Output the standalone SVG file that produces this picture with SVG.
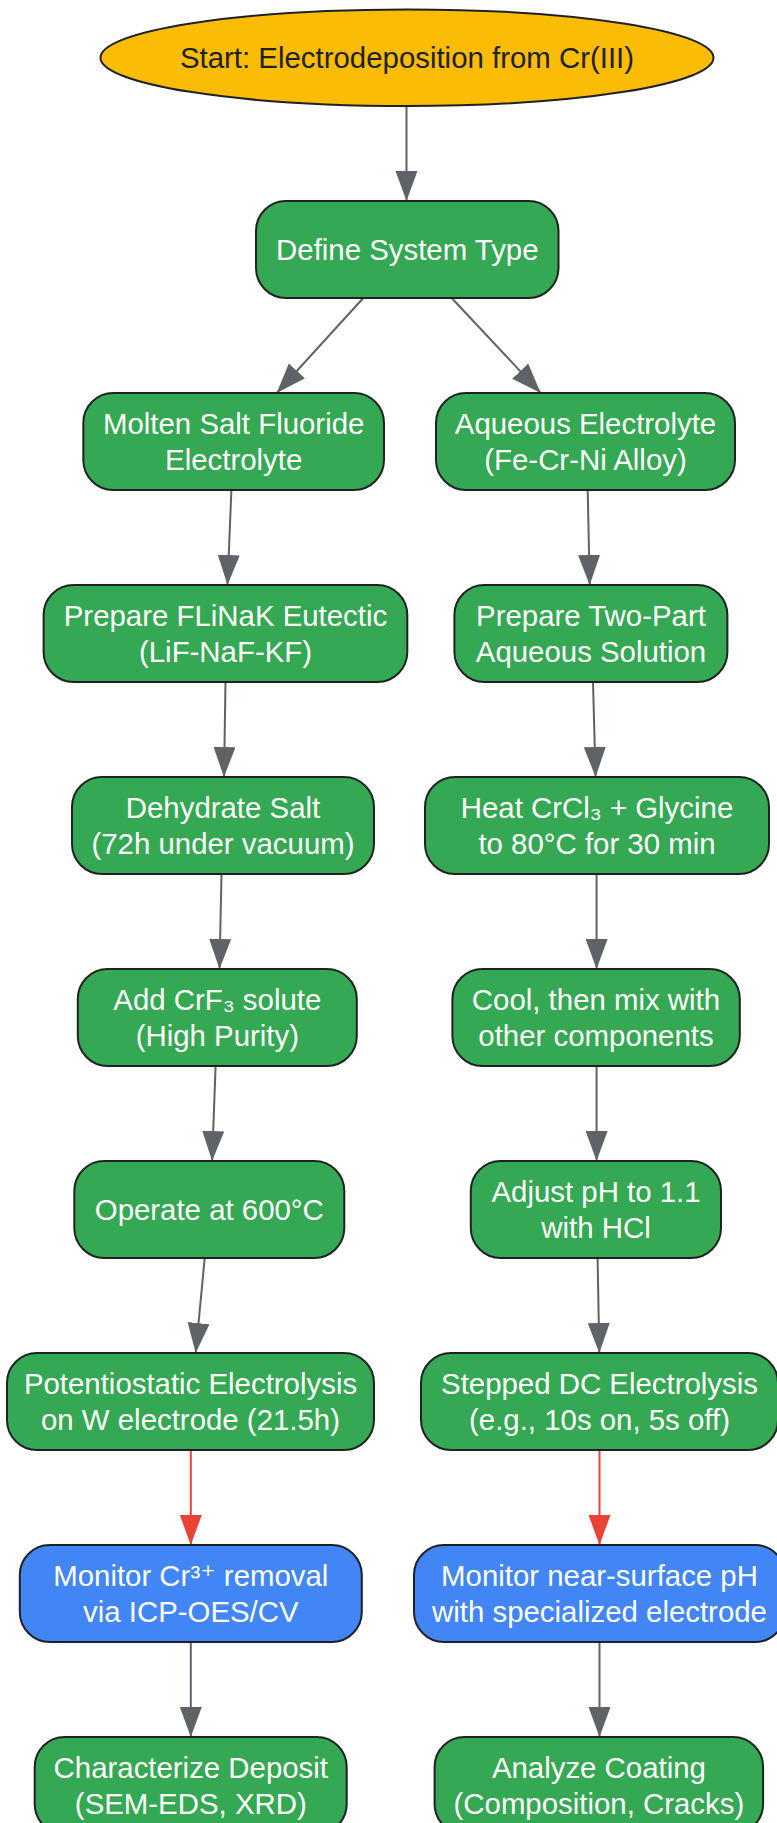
<svg xmlns="http://www.w3.org/2000/svg" width="777" height="1823" viewBox="0 0 777 1823">
<style>
.n{fill:#34A853;stroke:#202124;stroke-width:2}
.b{fill:#4285F4;stroke:#202124;stroke-width:2}
.s{fill:#FBBC05;stroke:#202124;stroke-width:2}
.t{font-family:"Liberation Sans",Arial,"DejaVu Sans",sans-serif;font-size:29.4px;fill:#ffffff;text-anchor:middle}
.td{fill:#202124}
.g{stroke:#5F6368;stroke-width:2;fill:none;marker-end:url(#ag)}
.r{stroke:#EA4335;stroke-width:2;fill:none;marker-end:url(#ar)}
</style>
<defs>
<marker id="ag" markerUnits="userSpaceOnUse" markerWidth="31" markerHeight="23" refX="30" refY="11" orient="auto"><path d="M0,0 L30,11 L0,22 z" fill="#5F6368"/></marker>
<marker id="ar" markerUnits="userSpaceOnUse" markerWidth="31" markerHeight="23" refX="30" refY="11" orient="auto"><path d="M0,0 L30,11 L0,22 z" fill="#EA4335"/></marker>
</defs>
<g id="connectors">
<line class="g" x1="406.5" y1="106" x2="406.5" y2="201"/>
<line class="g" x1="363.3" y1="298" x2="276.7" y2="393"/>
<line class="g" x1="451.7" y1="298" x2="540.7" y2="393"/>
<line class="g" x1="231.4" y1="490" x2="227.5" y2="585"/>
<line class="g" x1="587.7" y1="490" x2="589.7" y2="585"/>
<line class="g" x1="225.5" y1="682" x2="224" y2="777"/>
<line class="g" x1="593" y1="682" x2="595.6" y2="777"/>
<line class="g" x1="221.5" y1="874" x2="219.5" y2="969"/>
<line class="g" x1="596.6" y1="874" x2="596.6" y2="969"/>
<line class="g" x1="215.6" y1="1066" x2="212.1" y2="1161"/>
<line class="g" x1="596.6" y1="1066" x2="596.6" y2="1161"/>
<line class="g" x1="204.7" y1="1258" x2="195.7" y2="1353"/>
<line class="g" x1="597.6" y1="1258" x2="599.3" y2="1353"/>
<line class="r" x1="190.8" y1="1450" x2="190.8" y2="1545"/>
<line class="r" x1="599.5" y1="1450" x2="599.5" y2="1545"/>
<line class="g" x1="190.8" y1="1642" x2="190.8" y2="1737"/>
<line class="g" x1="599.5" y1="1642" x2="599.5" y2="1737"/>
</g>
<g id="start"><ellipse class="s" cx="407" cy="57.7" rx="306.5" ry="48.3"/><text class="t td" x="407" y="68.3">Start: Electrodeposition from Cr(III)</text></g>
<g id="define"><rect class="n" x="256" y="201" width="302.5" height="97" rx="30"/><text class="t" x="407.3" y="259.5">Define System Type</text></g>
<g id="molten"><rect class="n" x="83.3" y="393" width="300.7" height="97" rx="30"/><text class="t" x="233.7" y="433.5">Molten Salt Fluoride</text><text class="t" x="233.7" y="470">Electrolyte</text></g>
<g id="aqueous"><rect class="n" x="436" y="393" width="299" height="97" rx="30"/><text class="t" x="585.5" y="433.5">Aqueous Electrolyte</text><text class="t" x="585.5" y="470">(Fe-Cr-Ni Alloy)</text></g>
<g id="flinak"><rect class="n" x="43.6" y="585" width="363.7" height="97" rx="30"/><text class="t" x="225.5" y="625.5">Prepare FLiNaK Eutectic</text><text class="t" x="225.5" y="662">(LiF-NaF-KF)</text></g>
<g id="twopart"><rect class="n" x="454.4" y="585" width="273" height="97" rx="30"/><text class="t" x="591" y="625.5">Prepare Two-Part</text><text class="t" x="591" y="662">Aqueous Solution</text></g>
<g id="dehydrate"><rect class="n" x="72" y="777" width="302" height="97" rx="30"/><text class="t" x="223" y="817.5">Dehydrate Salt</text><text class="t" x="223" y="854">(72h under vacuum)</text></g>
<g id="heat"><rect class="n" x="425" y="777" width="344" height="97" rx="30"/><text class="t" x="597" y="817.5">Heat CrCl₃ + Glycine</text><text class="t" x="597" y="854">to 80°C for 30 min</text></g>
<g id="addcrf3"><rect class="n" x="77.8" y="969" width="279" height="97" rx="30"/><text class="t" x="217.3" y="1009.5">Add CrF₃ solute</text><text class="t" x="217.3" y="1046">(High Purity)</text></g>
<g id="cool"><rect class="n" x="452.4" y="969" width="287.4" height="97" rx="30"/><text class="t" x="596" y="1009.5">Cool, then mix with</text><text class="t" x="596" y="1046">other components</text></g>
<g id="operate"><rect class="n" x="74.3" y="1161" width="270" height="97" rx="30"/><text class="t" x="209.3" y="1219.5">Operate at 600°C</text></g>
<g id="adjust"><rect class="n" x="470.8" y="1161" width="250.2" height="97" rx="30"/><text class="t" x="596" y="1201.5">Adjust pH to 1.1</text><text class="t" x="596" y="1238">with HCl</text></g>
<g id="potentio"><rect class="n" x="7" y="1353" width="367" height="97" rx="30"/><text class="t" x="190.5" y="1393.5">Potentiostatic Electrolysis</text><text class="t" x="190.5" y="1430">on W electrode (21.5h)</text></g>
<g id="stepped"><rect class="n" x="421" y="1353" width="357" height="97" rx="30"/><text class="t" x="599.5" y="1393.5">Stepped DC Electrolysis</text><text class="t" x="599.5" y="1430">(e.g., 10s on, 5s off)</text></g>
<g id="monitorcr"><rect class="b" x="19.8" y="1545" width="342" height="97" rx="30"/><text class="t" x="190.8" y="1585.5">Monitor Cr³⁺ removal</text><text class="t" x="190.8" y="1622">via ICP-OES/CV</text></g>
<g id="monitorph"><rect class="b" x="414" y="1545" width="371" height="97" rx="30"/><text class="t" x="599.5" y="1585.5">Monitor near-surface pH</text><text class="t" x="599.5" y="1622">with specialized electrode</text></g>
<g id="characterize"><rect class="n" x="34.7" y="1737" width="312" height="97" rx="30"/><text class="t" x="190.8" y="1777.5">Characterize Deposit</text><text class="t" x="190.8" y="1814">(SEM-EDS, XRD)</text></g>
<g id="analyze"><rect class="n" x="434.6" y="1737" width="328.5" height="97" rx="30"/><text class="t" x="598.9" y="1777.5">Analyze Coating</text><text class="t" x="598.9" y="1814">(Composition, Cracks)</text></g>
</svg>
